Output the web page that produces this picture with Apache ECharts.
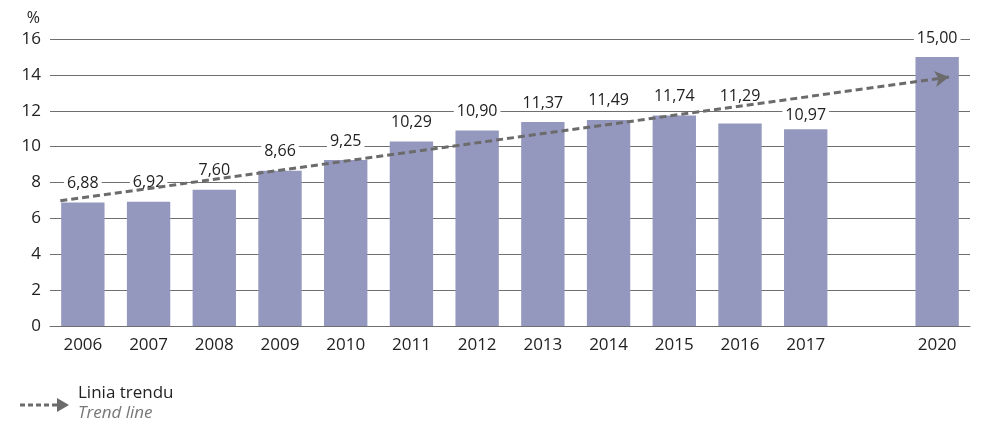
<!DOCTYPE html>
<html><head><meta charset="utf-8">
<script src="https://cdn.jsdelivr.net/npm/echarts@6/dist/echarts.min.js"></script>
<style>html,body{margin:0;padding:0;background:#fff}#c{width:992px;height:434px}</style>
</head><body><div id="c"></div>
<script>
const cats = ['2006','2007','2008','2009','2010','2011','2012','2013','2014','2015','2016','2017','','2020'];
const values = [6.88,6.92,7.60,8.66,9.25,10.29,10.90,11.37,11.49,11.74,11.29,10.97,null,15.00];
const yTicks = [0,2,4,6,8,10,12,14,16];
// trend line endpoints in category-slot units (0 = left edge of first slot)
const trendX = [0.157, 13.68];
const trendY = [6.98, 13.88];
const legendLabel1 = 'Linia trendu';
const legendLabel2 = 'Trend line';

const font = '"Open Sans", "Noto Sans", sans-serif';
// per-bar label distance tweaks (style only)
const labelDistance = i => (i === 10 ? 19 : i === 11 ? 6 : 11);

const chart = echarts.init(document.getElementById('c'), null, {renderer:'canvas'});
chart.setOption({
  animation:false,
  grid:{left:50, right:22, top:39, bottom:108},
  xAxis:[{
    type:'category', data:cats,
    axisLine:{lineStyle:{color:'#6f6f6f', width:1}},
    axisTick:{show:false},
    axisLabel:{color:'#222', fontSize:17, fontFamily:font, margin:11}
  },{
    type:'value', min:0, max:cats.length, show:false
  }],
  yAxis:{
    type:'value', min:yTicks[0], max:yTicks[yTicks.length-1], interval:2,
    name:'%', nameLocation:'end', nameGap:13,
    nameTextStyle:{color:'#222', fontSize:16, fontFamily:font, align:'right', padding:[0,10,0,0]},
    axisLine:{show:false}, axisTick:{show:false},
    axisLabel:{color:'#222', fontSize:17, fontFamily:font, margin:9},
    splitLine:{lineStyle:{color:'#6f6f6f', width:1}}
  },
  series:[{
    type:'bar', barCategoryGap:'34%',
    data:values.map((v,i)=>({value:v, label:{distance:labelDistance(i)}})),
    itemStyle:{color:'#9598be'},
    label:{show:true, position:'top', color:'#222', fontSize:16, fontFamily:font,
      backgroundColor:'#fff', padding:[1,3,0,3],
      formatter:p=>p.value==null?'':p.value.toFixed(2).replace('.',',')}
  },{
    type:'line', xAxisIndex:1, data:trendX.map((x,i)=>[x,trendY[i]]),
    symbol:'none', lineStyle:{opacity:0}, silent:true, z:5,
    markLine:{
      silent:true, symbol:['none','arrow'], symbolSize:[12,14],
      label:{show:false},
      lineStyle:{type:[7,4], color:'#6b6b6b', width:3},
      data:[[{coord:[trendX[0],trendY[0]]},{coord:[trendX[1],trendY[1]]}]]
    }
  }],
  graphic:[
    {type:'line', shape:{x1:20,y1:405,x2:58,y2:405}, style:{stroke:'#6b6b6b', lineWidth:3, lineDash:[5,3]}},
    {type:'polygon', shape:{points:[[57,398],[69,405],[57,412]]}, style:{fill:'#6b6b6b'}},
    {type:'text', left:78, top:385, style:{text:legendLabel1, fill:'#222', font:'17px '+font}},
    {type:'text', left:78, top:405, style:{text:legendLabel2, fill:'#777', font:'italic 17px '+font}}
  ]
});
</script></body></html>
